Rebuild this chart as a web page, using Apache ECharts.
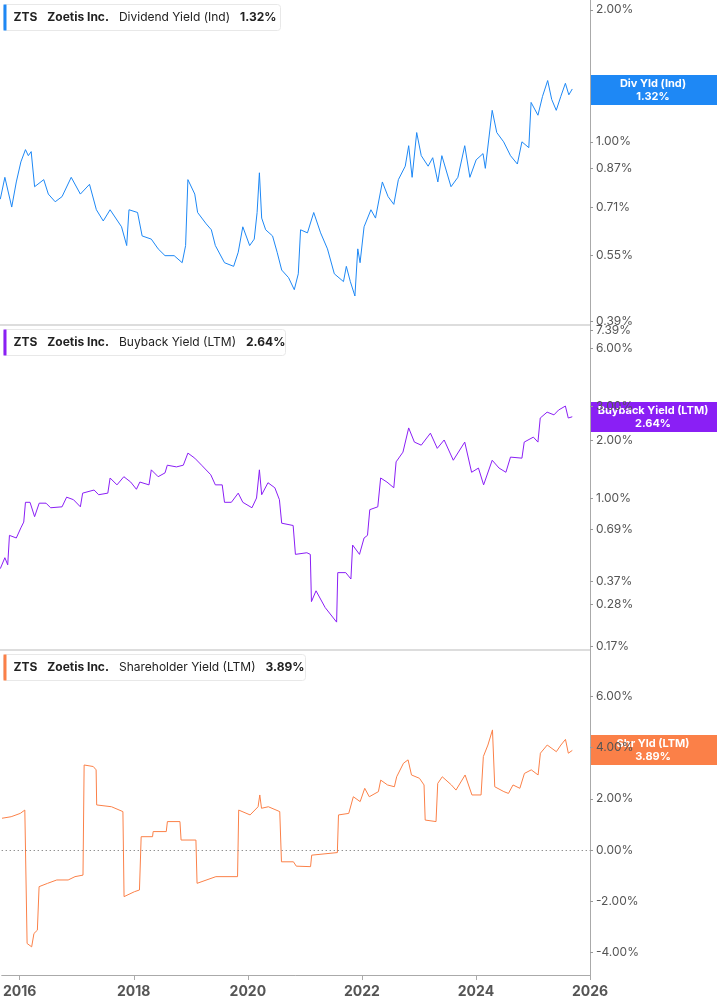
<!DOCTYPE html>
<html>
<head>
<meta charset="utf-8">
<script src="https://cdn.jsdelivr.net/npm/echarts@6/dist/echarts.min.js"></script>
<style>html,body{margin:0;padding:0;background:#fff}#chart{width:717px;height:1005px}</style>
</head>
<body>
<div id="chart"></div>
<script>
// years as decimal years, values in %
var divYears = [2015.69,2015.77,2015.89,2015.97,2016.05,2016.13,2016.18,2016.23,2016.29,2016.45,2016.53,2016.65,2016.77,2016.93,2017.09,2017.25,2017.37,2017.49,2017.61,2017.81,2017.90,2017.94,2018.09,2018.17,2018.33,2018.45,2018.57,2018.73,2018.87,2018.93,2018.97,2019.09,2019.14,2019.29,2019.38,2019.45,2019.61,2019.77,2019.85,2019.93,2020.05,2020.13,2020.18,2020.22,2020.26,2020.33,2020.45,2020.53,2020.61,2020.73,2020.83,2020.90,2020.94,2021.06,2021.17,2021.29,2021.41,2021.53,2021.69,2021.74,2021.81,2021.89,2021.94,2021.98,2022.05,2022.17,2022.25,2022.37,2022.47,2022.57,2022.65,2022.77,2022.83,2022.89,2022.97,2023.05,2023.17,2023.25,2023.34,2023.41,2023.57,2023.69,2023.81,2023.90,2024.01,2024.13,2024.17,2024.29,2024.37,2024.49,2024.61,2024.73,2024.81,2024.93,2024.97,2025.09,2025.17,2025.26,2025.33,2025.41,2025.49,2025.57,2025.63,2025.69];
var divValues = [0.74,0.83,0.71,0.81,0.90,0.96,0.93,0.95,0.79,0.82,0.76,0.73,0.75,0.83,0.76,0.80,0.70,0.66,0.70,0.64,0.58,0.70,0.69,0.61,0.60,0.57,0.55,0.55,0.53,0.58,0.82,0.76,0.69,0.65,0.63,0.58,0.53,0.52,0.56,0.64,0.58,0.60,0.69,0.85,0.67,0.63,0.61,0.56,0.51,0.49,0.46,0.50,0.63,0.62,0.69,0.62,0.57,0.50,0.48,0.52,0.48,0.445,0.57,0.53,0.64,0.70,0.67,0.81,0.75,0.72,0.82,0.88,0.98,0.83,1.05,0.93,0.88,0.92,0.81,0.93,0.79,0.83,0.98,0.83,0.91,0.94,0.87,1.18,1.05,1.00,0.93,0.89,1.00,0.97,1.23,1.15,1.27,1.38,1.25,1.18,1.27,1.36,1.28,1.32];

var bbYears = [2015.69,2015.77,2015.82,2015.85,2015.97,2016.05,2016.10,2016.13,2016.21,2016.29,2016.37,2016.49,2016.57,2016.77,2016.85,2016.97,2017.09,2017.13,2017.33,2017.41,2017.57,2017.61,2017.73,2017.85,2017.97,2018.07,2018.13,2018.29,2018.33,2018.45,2018.57,2018.61,2018.77,2018.89,2018.97,2019.09,2019.21,2019.37,2019.45,2019.57,2019.61,2019.73,2019.85,2019.93,2020.09,2020.17,2020.22,2020.26,2020.37,2020.49,2020.57,2020.61,2020.81,2020.85,2021.05,2021.11,2021.13,2021.21,2021.37,2021.57,2021.59,2021.73,2021.82,2021.85,2021.97,2022.05,2022.11,2022.15,2022.29,2022.34,2022.45,2022.57,2022.61,2022.73,2022.83,2022.93,2023.05,2023.21,2023.33,2023.45,2023.61,2023.81,2023.93,2024.05,2024.14,2024.29,2024.41,2024.53,2024.61,2024.81,2024.85,2025.01,2025.09,2025.13,2025.25,2025.37,2025.45,2025.57,2025.62,2025.69];
var bbValues = [0.43,0.49,0.45,0.64,0.62,0.70,0.75,0.95,0.95,0.80,0.94,0.94,0.89,0.90,1.01,0.98,0.90,1.06,1.10,1.04,1.06,1.27,1.17,1.29,1.21,1.11,1.21,1.17,1.40,1.29,1.35,1.48,1.45,1.48,1.71,1.61,1.48,1.32,1.17,1.17,0.95,0.95,1.06,0.95,0.89,1.00,1.40,1.04,1.20,1.13,0.98,0.74,0.72,0.51,0.52,0.51,0.29,0.33,0.27,0.227,0.41,0.41,0.38,0.57,0.51,0.62,0.64,0.87,0.90,1.27,1.21,1.13,1.54,1.73,2.31,1.95,1.88,2.17,1.81,2.00,1.57,1.95,1.36,1.43,1.17,1.57,1.43,1.36,1.63,1.61,1.95,2.07,1.95,2.60,2.79,2.70,2.86,3.00,2.60,2.64];

var shYears = [2015.69,2015.85,2016.01,2016.09,2016.13,2016.21,2016.25,2016.31,2016.34,2016.49,2016.65,2016.85,2016.97,2017.11,2017.13,2017.29,2017.34,2017.35,2017.61,2017.81,2017.83,2018.01,2018.10,2018.13,2018.33,2018.34,2018.57,2018.59,2018.81,2018.83,2019.09,2019.11,2019.44,2019.82,2019.84,2020.04,2020.18,2020.21,2020.24,2020.36,2020.56,2020.59,2020.80,2020.85,2021.10,2021.12,2021.57,2021.59,2021.77,2021.85,2021.97,2022.05,2022.13,2022.29,2022.33,2022.45,2022.57,2022.61,2022.73,2022.81,2022.87,2023.01,2023.09,2023.11,2023.30,2023.33,2023.41,2023.57,2023.65,2023.81,2023.93,2024.09,2024.13,2024.21,2024.29,2024.33,2024.49,2024.57,2024.65,2024.77,2024.85,2024.97,2025.09,2025.13,2025.25,2025.41,2025.49,2025.57,2025.62,2025.69];
var shValues = [1.24,1.30,1.43,1.56,-3.65,-3.78,-3.26,-3.13,-1.43,-1.30,-1.17,-1.17,-1.04,-0.98,3.32,3.26,3.13,1.76,1.69,1.50,-1.82,-1.63,-1.56,0.52,0.52,0.72,0.72,1.11,1.11,0.39,0.39,-1.30,-1.04,-1.04,1.56,1.37,1.69,2.15,1.63,1.69,1.50,-0.46,-0.46,-0.63,-0.65,-0.20,-0.10,1.37,1.43,2.08,1.89,2.41,2.08,2.28,2.73,2.54,2.47,2.86,3.39,3.52,2.93,2.80,2.54,1.17,1.11,2.60,2.86,2.54,2.34,2.93,2.15,2.15,3.65,4.10,4.69,2.47,2.28,2.21,2.54,2.41,2.99,3.13,2.93,3.78,4.10,3.84,4.10,4.32,3.78,3.89];

var divTicks = [0.39, 0.55, 0.71, 0.87, 1.00, 2.00];
var bbTicks = [0.17, 0.28, 0.37, 0.69, 1.00, 2.00, 3.00, 6.00, 7.39];
var shTicks = [-4, -2, 0, 2, 4, 6];
var yearTicks = [2016, 2018, 2020, 2022, 2024, 2026];

var chart = echarts.init(document.getElementById('chart'));
var FONT = 'Inter, "Noto Sans", sans-serif';
var lab = {color: '#555', fontSize: 12, fontFamily: FONT, margin: 6};

function pairs(xs, ys, log) {
  return xs.map(function (x, i) { return [x, log ? Math.log(ys[i]) : ys[i]]; });
}
function xAx(idx, show) {
  return {
    type: 'value', gridIndex: idx, min: 2015.685, max: 2026,
    axisLine: {show: show, onZero: false, lineStyle: {color: '#aaa'}},
    splitLine: {show: false},
    axisTick: {show: show, customValues: yearTicks, length: 5, lineStyle: {color: '#aaa'}},
    axisLabel: {show: show, customValues: yearTicks, color: '#555', fontSize: 14, fontWeight: 'bold', fontFamily: FONT, margin: 10, formatter: function (v) { return String(v); }}
  };
}
function yAx(idx, min, max, ticks, log) {
  var cv = ticks.map(function (t) { return log ? Math.log(t) : t; });
  return {
    type: 'value', gridIndex: idx, position: 'right', min: min, max: max,
    axisLine: {show: true, lineStyle: {color: '#aaa'}},
    splitLine: {show: false},
    axisTick: {show: true, customValues: cv, length: 3, inside: false, lineStyle: {color: '#999'}},
    axisLabel: Object.assign({customValues: cv, formatter: function (v) {
      var n = log ? Math.exp(v) : v;
      return n.toFixed(2) + '%';
    }}, lab)
  };
}
function legendBox(y, w, color, name, val) {
  return {
    type: 'group', left: 3, top: y, children: [
      {type: 'rect', shape: {x: 0, y: 0, width: w, height: 26, r: 3}, style: {fill: '#fff', stroke: '#e8e8e8', lineWidth: 1}},
      {type: 'rect', shape: {x: 0, y: 0, width: 3, height: 26}, style: {fill: color}},
      {type: 'text', x: 10, y: 7, style: {
        text: '{b|ZTS}   {b|Zoetis Inc.}   {n|' + name + '}   {b|' + val + '}',
        rich: {b: {fontWeight: 'bold', fontSize: 12, fill: '#222', fontFamily: FONT}, n: {fontSize: 12, fill: '#222', fontFamily: FONT}}
      }}
    ]
  };
}
function tag(y, color, l1, l2) {
  return {
    type: 'group', left: 590, top: y, children: [
      {type: 'rect', shape: {x: 0, y: 0, width: 127, height: 30}, style: {fill: color}},
      {type: 'text', x: 63, y: 15, style: {text: l1 + '\n' + l2, fill: '#fff', fontWeight: 'bold', fontSize: 11, fontFamily: FONT, align: 'center', verticalAlign: 'middle', lineHeight: 13}}
    ]
  };
}

chart.setOption({
  animation: false,
  grid: [
    {left: 0, right: 127, top: 0, height: 325},
    {left: 0, right: 127, top: 325, height: 325},
    {left: 0, right: 127, top: 650, height: 325}
  ],
  xAxis: [xAx(0, false), xAx(1, false), xAx(2, true)],
  yAxis: [
    yAx(0, -0.962, 0.745, divTicks, true),
    yAx(1, -1.816, 2.067, bbTicks, true),
    yAx(2, -4.88, 7.81, shTicks, false)
  ],
  series: [
    {type: 'line', xAxisIndex: 0, yAxisIndex: 0, data: pairs(divYears, divValues, true), showSymbol: false, lineStyle: {color: '#1e88f5', width: 1}},
    {type: 'line', xAxisIndex: 1, yAxisIndex: 1, data: pairs(bbYears, bbValues, true), showSymbol: false, lineStyle: {color: '#8a1ff5', width: 1}},
    {type: 'line', xAxisIndex: 2, yAxisIndex: 2, data: pairs(shYears, shValues, false), showSymbol: false, lineStyle: {color: '#fb8048', width: 1},
      markLine: {silent: true, symbol: 'none', label: {show: false}, lineStyle: {color: '#666', type: [1, 3], width: 1}, data: [{yAxis: 0}]}}
  ],
  graphic: [
    {type: 'line', shape: {x1: 0, y1: 325, x2: 590, y2: 325}, style: {stroke: '#bbb', lineWidth: 1}},
    {type: 'line', shape: {x1: 0, y1: 650, x2: 590, y2: 650}, style: {stroke: '#bbb', lineWidth: 1}},
    legendBox(4, 277, '#1e88f5', 'Dividend Yield (Ind)', '1.32%'),
    legendBox(329, 282, '#8a1ff5', 'Buyback Yield (LTM)', '2.64%'),
    legendBox(654, 302, '#fb8048', 'Shareholder Yield (LTM)', '3.89%'),
    tag(75, '#1e88f5', 'Div Yld (Ind)', '1.32%'),
    tag(402, '#8a1ff5', 'Buyback Yield (LTM)', '2.64%'),
    tag(735, '#fb8048', 'Shr Yld (LTM)', '3.89%')
  ]
});
</script>
</body>
</html>
